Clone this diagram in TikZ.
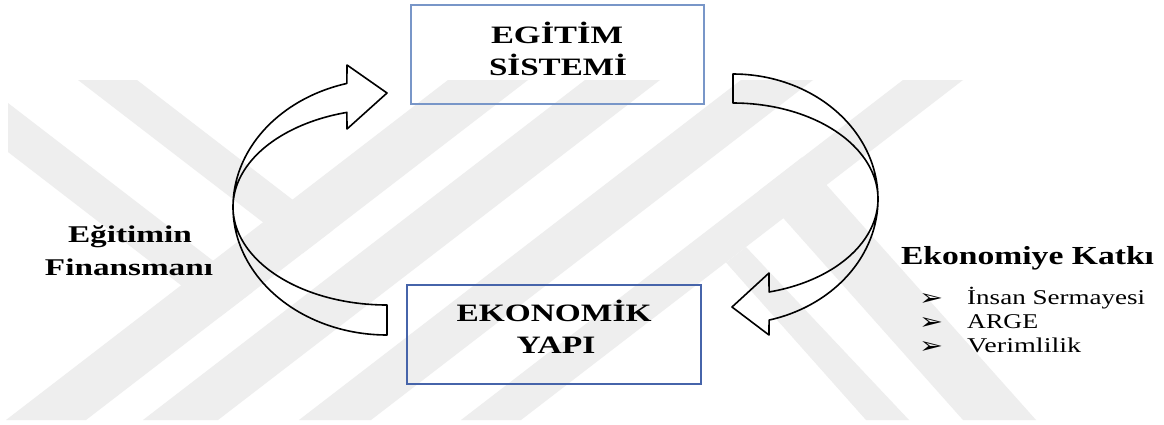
\documentclass[tikz,border=0pt]{standalone}
\usepackage{fontspec}
\setmainfont{Liberation Serif}
\newfontfamily\symfont{DejaVu Sans}
\usepackage{graphicx}
\newcommand{\fitw}[2]{\resizebox{#1}{\height}{#2}}
\definecolor{wm}{RGB}{238,238,238}
\definecolor{boxtop}{RGB}{120,150,200}
\definecolor{boxbot}{RGB}{70,100,170}
\begin{document}
\begin{tikzpicture}[x=1pt,y=-1pt,
  wmband/.style={fill=wm, draw=none},
  blockarrow/.style={draw=black, line width=1.6pt, line join=round},
  topbox/.style={draw=boxtop, line width=1.4pt, minimum width=293pt, minimum height=99pt, inner sep=0pt},
  botbox/.style={draw=boxbot, line width=2pt, minimum width=294pt, minimum height=99pt, inner sep=0pt},
  headtxt/.style={font=\fontsize{25}{30}\selectfont\bfseries, inner sep=0pt, anchor=base},
  sidetxt/.style={font=\fontsize{24}{28}\selectfont\bfseries, inner sep=0pt, anchor=base},
  katkitxt/.style={font=\fontsize{26}{30}\selectfont\bfseries, inner sep=0pt, anchor=base},
  listtxt/.style={font=\fontsize{21}{24}\selectfont, inner sep=0pt, anchor=base west},
  bul/.style={font=\symfont\fontsize{20}{22}\selectfont, inner sep=0pt, anchor=base west}
]
\useasboundingbox (0,0) rectangle (1164,424);
\fill[white] (0,0) rectangle (1164,424);

% watermark
\fill[wmband] (448,80) -- (528,80) -- (86,420) -- (6,420) -- cycle;
\fill[wmband] (585,80) -- (660,80) -- (218,420) -- (143,420) -- cycle;
\fill[wmband] (741,80) -- (813,80) -- (371,420) -- (299,420) -- cycle;
\fill[wmband] (903,80) -- (963,80) -- (521,420) -- (461,420) -- cycle;
\fill[wmband] (78,80) -- (137,80) -- (332.5,230.4) -- (303,253) -- cycle;
\fill[wmband] (8,103) -- (253,291.5) -- (221,316) -- (8,152) -- cycle;
\fill[wmband] (802,157.4) -- (1036,420) -- (963,420) -- (759,190.8) -- cycle;
\fill[wmband] (746,247) -- (909,420) -- (866,420) -- (726,262.5) -- cycle;

% boxes
\node[topbox] (egitim) at (557.5,54.5) {};
\node[botbox] (ekonomik) at (554,334.5) {};
\node[headtxt] (egitimA) at (557,43) {\fitw{132pt}{EGİTİM}};
\node[headtxt] (egitimB) at (558,75) {\fitw{138pt}{SİSTEMİ}};
\node[headtxt] (ekonA) at (554,321) {\fitw{195pt}{EKONOMİK}};
\node[headtxt] (ekonB) at (556,353) {\fitw{79pt}{YAPI}};

% left curved arrow (Eğitimin Finansmanı)
\draw[blockarrow]
  plot[domain=90:254.9, samples=90] ({387+154*cos(\x)},{207+128*sin(\x)})
  -- (347,65) -- (387,93) -- (347,129)
  -- plot[domain=254.9:90, samples=90] ({387+154*cos(\x)},{207+98*sin(\x)})
  -- cycle;

% right curved arrow (Ekonomiye Katkı)
\draw[blockarrow]
  plot[domain=-90:75.6, samples=90] ({733+145*cos(\x)},{199+125*sin(\x)})
  -- (769,335) -- (732,307) -- (769,273)
  -- plot[domain=75.6:-90, samples=90] ({733+145*cos(\x)},{199+96*sin(\x)})
  -- cycle;

% side labels
\node[sidetxt] (finA) at (130,242) {\fitw{124pt}{Eğitimin}};
\node[sidetxt] (finB) at (129,275) {\fitw{168pt}{Finansmanı}};
\node[katkitxt] (katki) at (1027.5,264) {\fitw{253pt}{Ekonomiye Katkı}};

\node[bul] (b1) at (919,305) {\resizebox{24pt}{12pt}{➢}};
\node[bul] (b2) at (919,329) {\resizebox{24pt}{12pt}{➢}};
\node[bul] (b3) at (919,353) {\resizebox{24pt}{12pt}{➢}};
\node[listtxt] (l1) at (967,304) {\fitw{178pt}{İnsan Sermayesi}};
\node[listtxt] (l2) at (967,328) {\fitw{71pt}{ARGE}};
\node[listtxt] (l3) at (967,352) {\fitw{114pt}{Verimlilik}};
\end{tikzpicture}
\end{document}
